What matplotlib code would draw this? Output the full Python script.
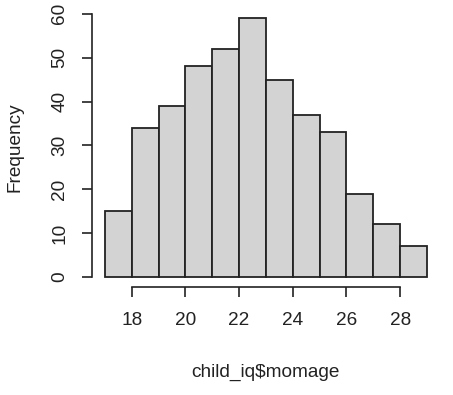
"""Histogram of mother's age (R base graphics look)"""

import matplotlib
matplotlib.use('Agg')
import matplotlib.pyplot as plt

# bin edges of width 1 from 17 to 29
bin_left = [17, 18, 19, 20, 21, 22, 23, 24, 25, 26, 27, 28]
counts = [15, 34, 39, 48, 52, 59, 45, 37, 33, 19, 12, 7]
x_ticks = [18, 20, 22, 24, 26, 28]
y_ticks = [0, 10, 20, 30, 40, 50, 60]


def main():
    """Main function"""
    plt.rcParams['font.family'] = ['Liberation Sans', 'DejaVu Sans']

    fig = plt.figure(figsize=(4.53, 3.95), dpi=100)
    ax = fig.add_axes([0.203, 0.273, 0.768, 0.707])

    ax.bar(bin_left, counts, width=1, align='edge',
           color='#d3d3d3', edgecolor='#222222', linewidth=1.3)

    # R pads the data range by 4% on each side
    x0, x1 = bin_left[0], bin_left[-1] + 1
    dx = (x1 - x0) * 0.04
    ax.set_xlim(x0 - dx, x1 + dx)
    dy = max(counts) * 0.04
    ax.set_ylim(-dy, max(counts) + dy)

    for s in ['top', 'right']:
        ax.spines[s].set_visible(False)
    ax.spines['left'].set_bounds(y_ticks[0], y_ticks[-1])
    ax.spines['bottom'].set_bounds(x_ticks[0], x_ticks[-1])
    ax.spines['left'].set_color('#222222')
    ax.spines['bottom'].set_color('#222222')
    ax.spines['left'].set_linewidth(1.2)
    ax.spines['bottom'].set_linewidth(1.2)

    ax.set_xticks(x_ticks)
    ax.set_yticks(y_ticks)
    ax.tick_params(axis='both', length=7, width=1.2, color='#222222',
                   labelsize=13.7, labelcolor='#222222')
    ax.tick_params(axis='x', pad=11)
    ax.tick_params(axis='y', pad=10)
    for lab in ax.get_yticklabels():
        lab.set_rotation(90)
        lab.set_va('center')

    ax.set_xlabel('child_iq$momage', fontsize=13.7, color='#222222',
                  labelpad=25)
    ax.set_ylabel('Frequency', fontsize=13.7, color='#222222', labelpad=20)

    fig.savefig('out.png', dpi=100)


if __name__ == "__main__":
    main()
